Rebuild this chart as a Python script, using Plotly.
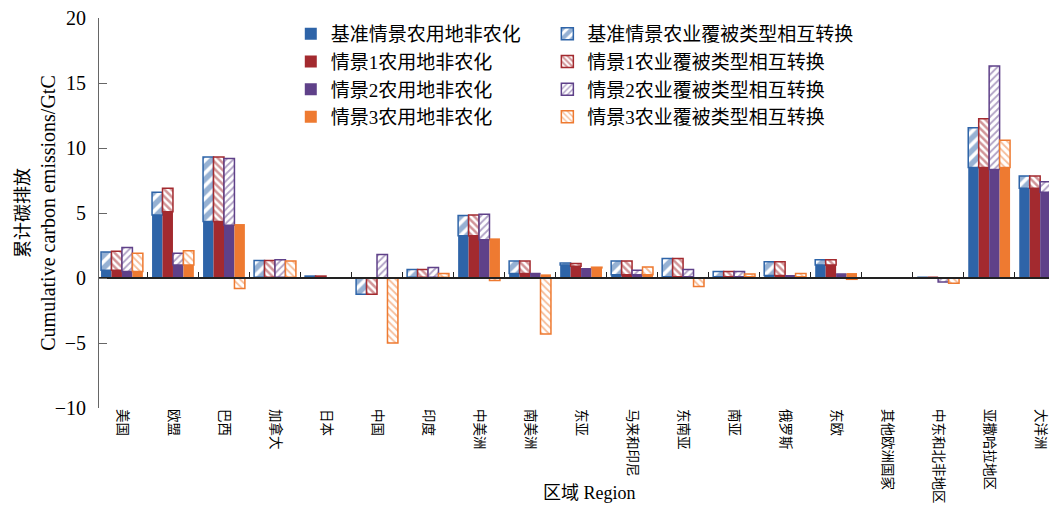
import numpy as np
import plotly.graph_objects as go

regions = ["美国", "欧盟", "巴西", "加拿大", "日本", "中国", "印度", "中美洲", "南美洲", "东亚",
           "马来和印尼", "东南亚", "南亚", "俄罗斯", "东欧", "其他欧洲国家", "中东和北非地区",
           "亚撒哈拉地区", "大洋洲"]

# 农用地非农化 (solid part)
base_solid = [0.6, 4.85, 4.35, 0.05, 0.1, 0.0, 0.05, 3.25, 0.35, 1.0, 0.25, 0.1, 0.1, 0.2, 1.0, 0.0, 0.05, 8.5, 6.9]
s1_solid = [0.6, 5.1, 4.35, 0.05, 0.1, 0.0, 0.05, 3.25, 0.35, 0.9, 0.25, 0.1, 0.1, 0.2, 1.0, 0.0, 0.05, 8.5, 6.9]
s2_solid = [0.5, 1.0, 4.05, 0.05, 0.02, 0.0, 0.05, 2.95, 0.35, 0.72, 0.25, 0.1, 0.1, 0.18, 0.3, 0.0, 0.0, 8.35, 6.6]
s3_solid = [0.5, 1.0, 4.15, 0.05, 0.02, 0.0, 0.05, 3.05, 0.28, 0.78, 0.25, 0.05, 0.1, 0.1, 0.38, 0.0, 0.0, 8.5, 6.6]

# 农业覆被类型相互转换 (hatched part)
base_hatch = [1.4, 1.75, 4.95, 1.3, 0.05, -1.25, 0.6, 1.55, 0.95, 0.15, 1.05, 1.4, 0.4, 1.05, 0.4, 0.0, 0.0, 3.05, 0.95]
s1_hatch = [1.45, 1.8, 4.95, 1.3, 0.05, -1.25, 0.6, 1.6, 0.95, 0.22, 1.05, 1.4, 0.4, 1.05, 0.4, 0.0, 0.0, 3.75, 0.95]
s2_hatch = [1.85, 0.9, 5.15, 1.35, 0.0, 1.8, 0.75, 1.95, 0.0, 0.0, 0.35, 0.55, 0.4, 0.0, 0.0, 0.0, -0.3, 7.95, 0.8]
s3_hatch = [1.4, 1.1, -0.8, 1.25, 0.0, -5.0, 0.3, -0.2, -4.3, 0.05, 0.6, -0.65, 0.2, 0.25, -0.1, 0.0, -0.4, 2.1, 0.7]

solid_names = ["基准情景农用地非农化", "情景1农用地非农化", "情景2农用地非农化", "情景3农用地非农化"]
hatch_names = ["基准情景农业覆被类型相互转换", "情景1农业覆被类型相互转换", "情景2农业覆被类型相互转换", "情景3农业覆被类型相互转换"]

colors = ["#2E64A8", "#A32A2F", "#5F4189", "#EE7A31"]
hatch_shapes = ["/", "\\", "/", "\\"]
hatch_sizes = [9, 5, 5, 5]
hatch_solidity = [0.6, 0.5, 0.35, 0.35]

solids = [base_solid, s1_solid, s2_solid, s3_solid]
hatches = [base_hatch, s1_hatch, s2_hatch, s3_hatch]

CJK = "Noto Sans CJK SC"
SERIF = "Liberation Serif"

fig = go.Figure()
for i in range(4):
    s = np.array(solids[i], dtype=float)
    h = np.array(hatches[i], dtype=float)
    hb = np.where(h >= 0, np.maximum(s, 0), np.minimum(s, 0))
    fig.add_trace(go.Bar(
        x=regions, y=s, name=solid_names[i], offsetgroup=str(i),
        marker=dict(color=colors[i], line=dict(width=0)),
        legend="legend",
    ))
    fig.add_trace(go.Bar(
        x=regions, y=h, base=hb, name=hatch_names[i], offsetgroup=str(i),
        marker=dict(color="white",
                    line=dict(width=1.5, color=colors[i]),
                    pattern=dict(shape=hatch_shapes[i], fgcolor=colors[i], bgcolor="white",
                                 size=hatch_sizes[i], solidity=hatch_solidity[i], fillmode="overlay")),
        legend="legend2",
    ))

# invisible helper trace for the zero-line axis with boundary ticks
fig.add_trace(go.Scatter(x=regions, y=[None] * len(regions), xaxis="x2", yaxis="y",
                         showlegend=False, hoverinfo="skip", mode="lines"))

xr = [-0.45, 18.33]
fig.update_layout(
    width=1049, height=499,
    margin=dict(l=91, r=0, t=10, b=99, autoexpand=False),
    plot_bgcolor="white", paper_bgcolor="white",
    barmode="group", bargap=0.18, bargroupgap=0,
    font=dict(family=f"{SERIF}, {CJK}", size=18, color="black"),
    xaxis=dict(type="category", range=xr, showline=False, ticks="", tickangle=90,
               tickfont=dict(family=CJK, size=13.5), showgrid=False, zeroline=False,
               automargin=False),
    xaxis2=dict(type="category", overlaying="x", anchor="free", position=1/3, side="bottom",
                range=xr, showline=True, linecolor="#222", linewidth=2,
                ticks="inside", tickson="boundaries", ticklen=5, tickcolor="#222", tickwidth=1,
                showticklabels=False, showgrid=False, zeroline=False, automargin=False),
    yaxis=dict(range=[-10, 20], dtick=5, showline=True, linecolor="#666", linewidth=1,
               ticks="inside", ticklen=8, tickcolor="#666", showgrid=False, zeroline=False,
               tickfont=dict(family=SERIF, size=20), automargin=False,
               ticklabelstandoff=8, ticklabeloverflow="allow",
               title=dict(text='<span style="font-family:Noto Sans CJK SC;font-size:18px">累计碳排放</span><br>Cumulative carbon emissions/GtC',
                          font=dict(family=SERIF, size=20), standoff=2)),
    legend=dict(x=0.2002, y=1.008, xanchor="left", yanchor="top", bgcolor="rgba(0,0,0,0)",
                font=dict(family=f"{SERIF}, {CJK}", size=19), itemwidth=30, tracegroupgap=0),
    legend2=dict(x=0.468, y=1.008, xanchor="left", yanchor="top", bgcolor="rgba(0,0,0,0)",
                 font=dict(family=f"{SERIF}, {CJK}", size=19), itemwidth=30, tracegroupgap=0),
    annotations=[dict(text="区域 Region", xref="paper", yref="paper", x=0.5125, y=0,
                      yshift=-85, yanchor="middle", showarrow=False,
                      font=dict(family=f"{SERIF}, {CJK}", size=18))],
)

fig.write_html("out.html")
